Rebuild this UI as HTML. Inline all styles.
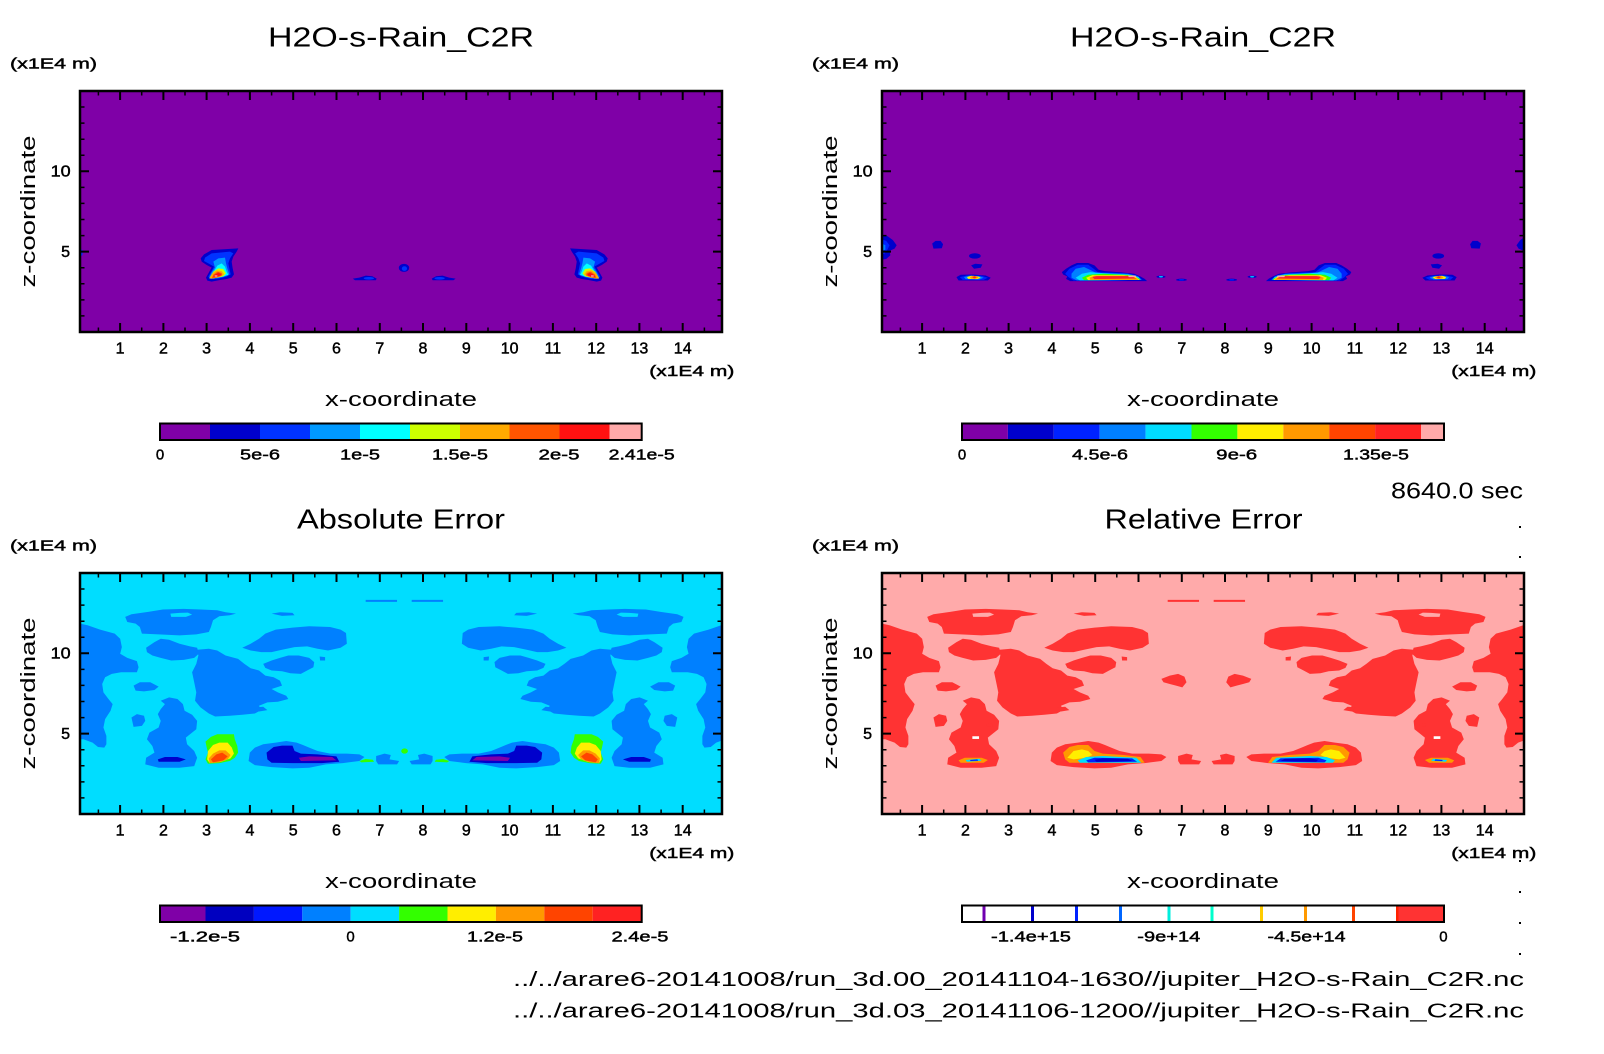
<!DOCTYPE html>
<html><head><meta charset="utf-8"><style>
html,body{margin:0;padding:0;background:#fff;}
svg{display:block;}
text{font-family:"Liberation Sans",sans-serif;fill:#000;}
.sm{stroke:#000;stroke-width:0.45;}
</style></head><body>
<svg width="1604" height="1054" viewBox="0 0 1604 1054" xmlns="http://www.w3.org/2000/svg">
<defs>
<clipPath id="cTL"><rect x="80" y="91" width="642" height="241"/></clipPath>
<clipPath id="cTR"><rect x="882" y="91" width="642" height="241"/></clipPath>
<clipPath id="cBL"><rect x="80" y="573" width="642" height="241"/></clipPath>
<clipPath id="cBR"><rect x="882" y="573" width="642" height="241"/></clipPath>
<g id="ax" fill="none" stroke="#000">
<rect x="80" y="91" width="642" height="241" stroke-width="2.5"/>
<path stroke-width="2" d="M120.1 332v-9M163.4 332v-9M206.6 332v-9M249.9 332v-9M293.2 332v-9M336.5 332v-9M379.8 332v-9M423 332v-9M466.3 332v-9M509.6 332v-9M552.9 332v-9M596.2 332v-9M639.4 332v-9M682.7 332v-9M120.1 91v9M163.4 91v9M206.6 91v9M249.9 91v9M293.2 91v9M336.5 91v9M379.8 91v9M423 91v9M466.3 91v9M509.6 91v9M552.9 91v9M596.2 91v9M639.4 91v9M682.7 91v9M80 251.65h9M80 171.3h9M722 251.65h-9M722 171.3h-9"/>
<path stroke-width="1.5" d="M98.4 332v-4.5M141.7 332v-4.5M185 332v-4.5M228.3 332v-4.5M271.6 332v-4.5M314.8 332v-4.5M358.1 332v-4.5M401.4 332v-4.5M444.7 332v-4.5M488 332v-4.5M531.2 332v-4.5M574.5 332v-4.5M617.8 332v-4.5M661.1 332v-4.5M704.4 332v-4.5M98.4 91v4.5M141.7 91v4.5M185 91v4.5M228.3 91v4.5M271.6 91v4.5M314.8 91v4.5M358.1 91v4.5M401.4 91v4.5M444.7 91v4.5M488 91v4.5M531.2 91v4.5M574.5 91v4.5M617.8 91v4.5M661.1 91v4.5M704.4 91v4.5M80 315.9h4.5M80 299.9h4.5M80 283.8h4.5M80 267.7h4.5M80 235.6h4.5M80 219.5h4.5M80 203.4h4.5M80 187.4h4.5M80 155.2h4.5M80 139.2h4.5M80 123.1h4.5M80 107h4.5M722 315.9h-4.5M722 299.9h-4.5M722 283.8h-4.5M722 267.7h-4.5M722 235.6h-4.5M722 219.5h-4.5M722 203.4h-4.5M722 187.4h-4.5M722 155.2h-4.5M722 139.2h-4.5M722 123.1h-4.5M722 107h-4.5"/>
</g>
<g id="esh">
<path d="M12,160 L30,165 60,178 95,190 108,205 112,230 108,250 125,262 148,272 152,290 148,305 110,305 88,310 72,320 65,340 68,365 80,385 90,400 85,420 72,445 68,470 75,495 75,520 70,530 55,528 42,515 20,505 12,505Z"/>
<path fill-rule="evenodd" d="M120,140 L135,132 175,125 210,118 260,116 300,118 340,120 360,126 385,130 370,135 345,138 330,150 325,170 320,185 290,192 250,195 200,192 160,190 155,170 145,160 125,155Z M228,130 L250,128 270,127 280,133 265,140 230,140Z"/>
<path d="M170,232 L190,215 205,205 225,208 250,220 275,228 292,232 296,250 285,262 260,268 230,270 205,262 185,255 172,245Z"/>
<path d="M292,238 L320,235 340,240 360,255 390,265 405,280 420,293 440,300 455,315 475,320 490,330 495,345 470,355 485,365 505,375 510,385 485,393 460,395 440,405 445,418 430,428 400,432 370,435 335,437 320,428 300,410 287,390 290,365 285,335 280,305 290,280 295,255Z"/>
<path d="M400,232 L420,220 440,205 455,190 480,178 520,172 560,168 610,170 635,178 648,188 650,220 635,232 605,240 580,235 555,228 525,230 495,238 470,245 445,245 420,240Z"/>
<path d="M450,280 L470,270 490,262 510,255 535,255 560,262 572,275 570,290 555,300 540,310 515,308 495,302 470,300 455,292Z"/>
<path d="M585,258 L598,260 598,270 586,270Z"/>
<path d="M140,345 L155,335 180,335 200,348 190,358 165,362 145,360Z"/>
<path d="M135,440 L148,430 165,435 168,450 160,465 140,468Z"/>
<path d="M205,390 L225,380 245,385 258,400 262,420 280,432 292,450 290,475 275,490 265,500 268,520 285,540 292,560 285,585 250,590 200,590 168,580 170,560 190,545 185,525 172,505 178,485 200,470 205,450 198,430 205,415 215,400Z"/>
<path d="M262,458 L278,460 276,468 263,467Z"/>
<path d="M418,545 L430,530 450,520 480,515 505,510 530,515 545,522 560,530 580,540 610,548 650,548 680,550 692,558 680,570 640,576 600,580 560,590 520,592 470,588 430,582 415,570Z"/>
<path d="M720,555 L740,548 755,552 752,565 775,570 770,580 725,580 720,570Z"/>
<path d="M695,89 L770,89 770,95 695,95Z"/>
<path d="M470,130 L490,126 520,128 525,135 495,137Z"/>
<path d="M430,410 L450,408 460,418 440,422Z"/>
</g>
<g id="blov">
<path fill="#0000CC" d="M458,545 L475,528 495,524 520,524 525,540 540,548 580,550 625,556 632,572 590,576 520,576 470,575 460,565Z"/>
<path fill="#7F00A7" d="M535,560 L560,556 615,558 625,568 540,570Z"/>
<path fill="#0000CC" d="M198,565 L215,558 245,558 265,565 250,572 200,572Z"/>
<path fill="#33FF00" d="M680,570 L695,564 712,566 715,572 685,574Z"/>
<path fill="#33FF00" d="M312,512 L325,498 340,490 380,490 382,505 388,525 390,545 382,560 370,570 345,576 318,578 312,565 318,545 315,530Z"/>
<path fill="#FFEE00" d="M318,540 L330,522 345,515 365,515 375,530 380,548 372,562 350,572 322,576 316,565Z"/>
<path fill="#FF9900" d="M320,562 L330,548 345,538 360,538 372,552 365,565 345,574 322,576Z"/>
<path fill="#FF4400" d="M325,565 L338,550 352,545 365,556 355,568 330,574Z"/>
</g>
<g id="brov">
<path fill="#FF3333" d="M680,325 L700,315 720,310 735,318 740,335 730,350 715,345 700,340 685,335Z"/>
<rect fill="#fff" x="228" y="496" width="16" height="8"/>
<path fill="#FF9900" d="M445,545 L460,528 480,522 505,522 520,540 540,548 590,552 630,558 640,575 460,575 450,565Z"/>
<path fill="#FFEE00" d="M455,560 L470,540 490,535 505,540 515,552 500,560 470,565Z"/>
<path fill="#00DDFF" d="M480,568 L500,558 540,555 620,560 632,575 485,575Z"/>
<path fill="#0022FF" d="M500,568 L520,560 610,562 622,572 505,574Z"/>
<path fill="#0000CC" d="M520,566 L540,562 600,563 610,570 525,572Z"/>
<path fill="#FF9900" d="M195,568 L210,560 250,560 265,567 255,575 200,575Z"/>
<path fill="#00DDFF" d="M212,567 L245,563 250,569 215,572Z"/>
<path fill="#0022FF" d="M222,567 L240,565 242,569 224,570Z"/>
</g>
<g id="tlb" transform="translate(180,235) scale(0.33333)">
<path fill="#0000CC" d="M95,45 L175,40 170,50 160,65 155,80 158,100 162,118 155,128 140,132 120,135 95,140 82,137 78,128 88,110 95,98 80,90 65,80 62,70 72,58 90,48Z"/>
<path fill="#0033FF" d="M75,68 L95,55 150,50 160,55 150,70 145,85 148,100 152,118 140,125 110,132 90,132 85,125 95,108 102,95 85,85 72,78Z"/>
<path fill="#0099FF" d="M100,80 L115,70 135,68 138,85 142,100 148,118 130,126 100,130 88,128 95,112 105,98Z"/>
<path fill="#00FFFF" d="M112,92 L125,85 135,95 140,110 145,120 115,128 92,128 100,112Z"/>
<path fill="#CCFF00" d="M100,110 L115,100 130,102 138,115 130,124 100,130 88,130Z"/>
<path fill="#FFAA00" d="M96,116 L110,106 125,108 133,118 120,126 95,131 88,130Z"/>
<path fill="#FF5500" d="M100,119 L113,110 125,114 127,121 110,127 96,129Z"/>
<path fill="#FF1111" d="M103,120 L115,113 123,117 121,122 108,126 100,127Z"/>
<rect fill="#FFAAAA" x="104" y="121" width="8" height="4"/>
</g>
<g id="tls">
<path fill="#0000CC" d="M675,175 L690,172 705,166 720,168 730,175 728,180 680,180Z"/>
<ellipse fill="#0033FF" cx="712" cy="174" rx="12" ry="4"/>
<path fill="#0033FF" d="M45,85 L52,90 52,105 45,110Z"/>
</g>
<g id="trs">
<path fill="#0000CC" d="M12,45 L25,48 38,60 47,75 42,85 30,92 32,105 22,116 12,118Z"/>
<path fill="#0022FF" d="M12,58 L22,62 30,75 25,88 18,100 12,102Z"/>
<path fill="#0080FF" d="M12,70 L20,75 20,88 12,92Z"/>
<path fill="#0000CC" d="M132,70 L140,62 152,62 158,72 155,84 135,85Z"/>
<ellipse fill="#0000CC" cx="234" cy="107" rx="14" ry="8"/>
<path fill="#0000CC" d="M225,135 L235,130 252,132 248,142 232,145Z"/>
<path fill="#0000CC" d="M190,170 L200,163 230,162 260,165 272,172 265,180 195,180Z"/>
<path fill="#0022FF" d="M198,170 L215,165 250,166 265,172 255,178 205,178Z"/>
<path fill="#0080FF" d="M208,170 L220,166 245,167 255,172 245,177 212,176Z"/>
<path fill="#FFEE00" d="M215,170 L225,166 242,168 248,172 240,176 218,175Z"/>
<path fill="#FF9900" d="M222,170 L230,166 240,168 242,172 235,175 225,174Z"/>
<path fill="#FF2222" d="M228,170 L234,167 238,171 232,174Z"/>
<path fill="#0000CC" d="M445,162 L442,155 452,145 465,135 478,128 505,128 520,135 530,148 545,152 585,156 615,160 630,168 640,175 646,182 462,182 452,175 455,168Z"/>
<path fill="#0022FF" d="M450,160 L460,145 480,133 505,133 518,145 528,155 590,158 620,164 635,178 470,180 458,170Z"/>
<path fill="#0080FF" d="M465,160 L475,145 495,140 512,150 525,158 600,160 625,168 632,178 478,180 465,172Z"/>
<path fill="#00DDFF" d="M475,172 L490,160 510,155 540,158 600,162 625,170 630,178 485,180Z"/>
<path fill="#33FF00" d="M490,172 L505,163 540,160 610,164 628,175 630,178 495,179Z"/>
<path fill="#FFEE00" d="M500,172 L515,164 590,164 620,170 628,178 505,179Z"/>
<path fill="#FF9900" d="M508,172 L520,166 600,166 622,174 625,178 510,178Z"/>
<path fill="#FF2222" d="M515,170 L525,167 610,167 620,174 520,176Z"/>
<path fill="#FFAAAA" d="M600,165 L618,165 620,170 602,170Z"/>
<ellipse fill="#0000CC" cx="679" cy="169" rx="11" ry="3.5"/>
<ellipse fill="#00DDFF" cx="679" cy="169" rx="5" ry="2"/>
<ellipse fill="#0000CC" cx="728" cy="178" rx="13" ry="3.5"/>
<ellipse fill="#0022FF" cx="728" cy="178" rx="6" ry="2"/>
</g>
</defs>

<!-- TL plot -->
<g clip-path="url(#cTL)">
<rect x="80" y="91" width="642" height="241" fill="#7F00A7"/>
<use href="#tlb"/>
<g transform="translate(808.4,0) scale(-1,1)"><use href="#tlb"/></g>
<g transform="translate(60,220) scale(0.4338,0.335)">
<use href="#tls"/>
<g transform="translate(1587,0) scale(-1,1)"><use href="#tls"/></g>
<ellipse fill="#0000CC" cx="793" cy="143" rx="12" ry="12"/>
<ellipse fill="#0033FF" cx="794" cy="145" rx="6" ry="7"/>
</g>
</g>
<!-- TR plot -->
<g clip-path="url(#cTR)">
<rect x="882" y="91" width="642" height="241" fill="#7F00A7"/>
<g transform="translate(877,220) scale(0.41824,0.3361)">
<use href="#trs"/>
<g transform="translate(1576,0) scale(-1,1)"><use href="#trs"/></g>
</g>
</g>
<!-- BL plot -->
<g clip-path="url(#cBL)">
<rect x="80" y="573" width="642" height="241" fill="#00DDFF"/>
<g transform="translate(75,570) scale(0.41824,0.33519)">
<use href="#esh" fill="#0080FF"/>
<g transform="translate(1575,0) scale(-1,1)"><use href="#esh" fill="#0080FF"/><use href="#blov"/></g>
<use href="#blov"/>
<ellipse fill="#33FF00" cx="788" cy="540" rx="8" ry="8"/>
</g>
</g>
<!-- BR plot -->
<g clip-path="url(#cBR)">
<rect x="882" y="573" width="642" height="241" fill="#FFAAAA"/>
<g transform="translate(877,570) scale(0.41824,0.33519)">
<use href="#esh" fill="#FF3333"/>
<g transform="translate(1575,0) scale(-1,1)"><use href="#esh" fill="#FF3333"/><use href="#brov"/></g>
<use href="#brov"/>
</g>
</g>

<use href="#ax"/>
<use href="#ax" x="802"/>
<use href="#ax" y="482"/>
<use href="#ax" x="802" y="482"/>

<!-- colorbars -->
<g>
<rect x="160" y="423.5" width="50" height="16.5" fill="#7F00A7"/>
<rect x="210" y="423.5" width="50" height="16.5" fill="#0000CC"/>
<rect x="260" y="423.5" width="50" height="16.5" fill="#0033FF"/>
<rect x="310" y="423.5" width="50" height="16.5" fill="#0099FF"/>
<rect x="360" y="423.5" width="50" height="16.5" fill="#00FFFF"/>
<rect x="410" y="423.5" width="50" height="16.5" fill="#CCFF00"/>
<rect x="460" y="423.5" width="49.5" height="16.5" fill="#FFAA00"/>
<rect x="509.5" y="423.5" width="50" height="16.5" fill="#FF5500"/>
<rect x="559.5" y="423.5" width="50" height="16.5" fill="#FF1111"/>
<rect x="609.5" y="423.5" width="32.2" height="16.5" fill="#FFAAAA"/>
<rect x="160" y="423.5" width="481.7" height="16.5" fill="none" stroke="#000" stroke-width="2"/>

<rect x="962" y="423.5" width="45.9" height="16.5" fill="#7F00A7"/>
<rect x="1007.9" y="423.5" width="45.9" height="16.5" fill="#0000CC"/>
<rect x="1053.8" y="423.5" width="45.9" height="16.5" fill="#0022FF"/>
<rect x="1099.7" y="423.5" width="45.9" height="16.5" fill="#0080FF"/>
<rect x="1145.6" y="423.5" width="45.9" height="16.5" fill="#00DDFF"/>
<rect x="1191.5" y="423.5" width="45.9" height="16.5" fill="#33FF00"/>
<rect x="1237.4" y="423.5" width="45.9" height="16.5" fill="#FFEE00"/>
<rect x="1283.3" y="423.5" width="45.9" height="16.5" fill="#FF9900"/>
<rect x="1329.2" y="423.5" width="45.9" height="16.5" fill="#FF4400"/>
<rect x="1375.1" y="423.5" width="45.9" height="16.5" fill="#FF2222"/>
<rect x="1421" y="423.5" width="23" height="16.5" fill="#FFAAAA"/>
<rect x="962" y="423.5" width="482" height="16.5" fill="none" stroke="#000" stroke-width="2"/>

<rect x="160" y="905.5" width="45.5" height="16.5" fill="#7F00A7"/>
<rect x="205.5" y="905.5" width="48.4" height="16.5" fill="#0000C0"/>
<rect x="253.9" y="905.5" width="48.4" height="16.5" fill="#0018FF"/>
<rect x="302.3" y="905.5" width="48.4" height="16.5" fill="#0080FF"/>
<rect x="350.7" y="905.5" width="48.4" height="16.5" fill="#00DDFF"/>
<rect x="399.1" y="905.5" width="48.4" height="16.5" fill="#33FF00"/>
<rect x="447.5" y="905.5" width="48.4" height="16.5" fill="#FFEE00"/>
<rect x="495.9" y="905.5" width="48.4" height="16.5" fill="#FF9900"/>
<rect x="544.3" y="905.5" width="48.4" height="16.5" fill="#FF4400"/>
<rect x="592.7" y="905.5" width="49" height="16.5" fill="#FF2222"/>
<rect x="160" y="905.5" width="481.7" height="16.5" fill="none" stroke="#000" stroke-width="2"/>

<rect x="962" y="905.5" width="482" height="16.5" fill="#fff"/>
<rect x="982.5" y="905.5" width="3" height="16.5" fill="#7000B0"/>
<rect x="1031" y="905.5" width="3" height="16.5" fill="#0000CC"/>
<rect x="1075" y="905.5" width="3" height="16.5" fill="#0022FF"/>
<rect x="1119" y="905.5" width="3" height="16.5" fill="#0066FF"/>
<rect x="1167.5" y="905.5" width="3" height="16.5" fill="#00EEDD"/>
<rect x="1210.5" y="905.5" width="3" height="16.5" fill="#00FFCC"/>
<rect x="1260" y="905.5" width="3" height="16.5" fill="#FFCC00"/>
<rect x="1304" y="905.5" width="3" height="16.5" fill="#FF9900"/>
<rect x="1352" y="905.5" width="3" height="16.5" fill="#FF4400"/>
<rect x="1396" y="905.5" width="48" height="16.5" fill="#FF3333"/>
<rect x="1396" y="905.5" width="2.5" height="16.5" fill="#FF2200"/>
<rect x="962" y="905.5" width="482" height="16.5" fill="none" stroke="#000" stroke-width="2"/>
</g>

<!-- titles -->
<text x="401" y="46.7" font-size="28" text-anchor="middle" textLength="266" lengthAdjust="spacingAndGlyphs">H2O-s-Rain_C2R</text>
<text x="1203" y="46.7" font-size="28" text-anchor="middle" textLength="266" lengthAdjust="spacingAndGlyphs">H2O-s-Rain_C2R</text>
<text x="401" y="528.7" font-size="28" text-anchor="middle" textLength="208" lengthAdjust="spacingAndGlyphs">Absolute Error</text>
<text x="1203.5" y="528.5" font-size="28" text-anchor="middle" textLength="198" lengthAdjust="spacingAndGlyphs">Relative Error</text>
<text x="1523" y="498.3" font-size="23" text-anchor="end" textLength="132" lengthAdjust="spacingAndGlyphs">8640.0 sec</text>

<!-- unit labels -->
<g font-size="15" class="sm">
<text x="10" y="68.5" textLength="87" lengthAdjust="spacingAndGlyphs">(x1E4 m)</text>
<text x="812" y="68.5" textLength="87" lengthAdjust="spacingAndGlyphs">(x1E4 m)</text>
<text x="10" y="550.5" textLength="87" lengthAdjust="spacingAndGlyphs">(x1E4 m)</text>
<text x="812" y="550.5" textLength="87" lengthAdjust="spacingAndGlyphs">(x1E4 m)</text>
<text x="649.3" y="376" textLength="85" lengthAdjust="spacingAndGlyphs">(x1E4 m)</text>
<text x="1451.3" y="376" textLength="85" lengthAdjust="spacingAndGlyphs">(x1E4 m)</text>
<text x="649.3" y="858" textLength="85" lengthAdjust="spacingAndGlyphs">(x1E4 m)</text>
<text x="1451.3" y="858" textLength="85" lengthAdjust="spacingAndGlyphs">(x1E4 m)</text>
</g>

<!-- y tick labels -->
<g font-size="16" text-anchor="end" class="sm">
<text x="70.7" y="176.7" textLength="20" lengthAdjust="spacingAndGlyphs">10</text>
<text x="70" y="257">5</text>
<text x="872.7" y="176.7" textLength="20" lengthAdjust="spacingAndGlyphs">10</text>
<text x="872" y="257">5</text>
<text x="70.7" y="658.7" textLength="20" lengthAdjust="spacingAndGlyphs">10</text>
<text x="70" y="739">5</text>
<text x="872.7" y="658.7" textLength="20" lengthAdjust="spacingAndGlyphs">10</text>
<text x="872" y="739">5</text>
</g>

<!-- axis titles -->
<g font-size="20" text-anchor="middle">
<text transform="translate(35,211.5) rotate(-90)" textLength="152" lengthAdjust="spacingAndGlyphs">z-coordinate</text>
<text transform="translate(837,211.5) rotate(-90)" textLength="152" lengthAdjust="spacingAndGlyphs">z-coordinate</text>
<text transform="translate(35,693.5) rotate(-90)" textLength="152" lengthAdjust="spacingAndGlyphs">z-coordinate</text>
<text transform="translate(837,693.5) rotate(-90)" textLength="152" lengthAdjust="spacingAndGlyphs">z-coordinate</text>
<text x="401" y="406" textLength="152" lengthAdjust="spacingAndGlyphs">x-coordinate</text>
<text x="1203" y="406" textLength="152" lengthAdjust="spacingAndGlyphs">x-coordinate</text>
<text x="401" y="888" textLength="152" lengthAdjust="spacingAndGlyphs">x-coordinate</text>
<text x="1203" y="888" textLength="152" lengthAdjust="spacingAndGlyphs">x-coordinate</text>
</g>

<!-- x tick labels -->
<g font-size="16" text-anchor="middle" class="sm">
<text x="120.1" y="353.3">1</text><text x="163.4" y="353.3">2</text><text x="206.6" y="353.3">3</text><text x="249.9" y="353.3">4</text><text x="293.2" y="353.3">5</text><text x="336.5" y="353.3">6</text><text x="379.8" y="353.3">7</text><text x="423" y="353.3">8</text><text x="466.3" y="353.3">9</text><text x="509.6" y="353.3">10</text><text x="552.9" y="353.3">11</text><text x="596.2" y="353.3">12</text><text x="639.4" y="353.3">13</text><text x="682.7" y="353.3">14</text>
<text x="922.1" y="353.3">1</text><text x="965.4" y="353.3">2</text><text x="1008.6" y="353.3">3</text><text x="1051.9" y="353.3">4</text><text x="1095.2" y="353.3">5</text><text x="1138.5" y="353.3">6</text><text x="1181.8" y="353.3">7</text><text x="1225" y="353.3">8</text><text x="1268.3" y="353.3">9</text><text x="1311.6" y="353.3">10</text><text x="1354.9" y="353.3">11</text><text x="1398.2" y="353.3">12</text><text x="1441.4" y="353.3">13</text><text x="1484.7" y="353.3">14</text>
<text x="120.1" y="835.3">1</text><text x="163.4" y="835.3">2</text><text x="206.6" y="835.3">3</text><text x="249.9" y="835.3">4</text><text x="293.2" y="835.3">5</text><text x="336.5" y="835.3">6</text><text x="379.8" y="835.3">7</text><text x="423" y="835.3">8</text><text x="466.3" y="835.3">9</text><text x="509.6" y="835.3">10</text><text x="552.9" y="835.3">11</text><text x="596.2" y="835.3">12</text><text x="639.4" y="835.3">13</text><text x="682.7" y="835.3">14</text>
<text x="922.1" y="835.3">1</text><text x="965.4" y="835.3">2</text><text x="1008.6" y="835.3">3</text><text x="1051.9" y="835.3">4</text><text x="1095.2" y="835.3">5</text><text x="1138.5" y="835.3">6</text><text x="1181.8" y="835.3">7</text><text x="1225" y="835.3">8</text><text x="1268.3" y="835.3">9</text><text x="1311.6" y="835.3">10</text><text x="1354.9" y="835.3">11</text><text x="1398.2" y="835.3">12</text><text x="1441.4" y="835.3">13</text><text x="1484.7" y="835.3">14</text>
</g>

<!-- colorbar labels -->
<g font-size="15" text-anchor="middle" class="sm">
<text x="160" y="459.3">0</text>
<text x="260" y="459.3" textLength="40" lengthAdjust="spacingAndGlyphs">5e-6</text>
<text x="360" y="459.3" textLength="40" lengthAdjust="spacingAndGlyphs">1e-5</text>
<text x="460" y="459.3" textLength="56" lengthAdjust="spacingAndGlyphs">1.5e-5</text>
<text x="559" y="459.3" textLength="41" lengthAdjust="spacingAndGlyphs">2e-5</text>
<text x="641.7" y="459.3" textLength="66" lengthAdjust="spacingAndGlyphs">2.41e-5</text>
<text x="962" y="459.3">0</text>
<text x="1100" y="459.3" textLength="56" lengthAdjust="spacingAndGlyphs">4.5e-6</text>
<text x="1236.7" y="459.3" textLength="41" lengthAdjust="spacingAndGlyphs">9e-6</text>
<text x="1376" y="459.3" textLength="66" lengthAdjust="spacingAndGlyphs">1.35e-5</text>
<text x="205" y="941.3" textLength="70" lengthAdjust="spacingAndGlyphs">-1.2e-5</text>
<text x="350.5" y="941.3">0</text>
<text x="495" y="941.3" textLength="56" lengthAdjust="spacingAndGlyphs">1.2e-5</text>
<text x="640" y="941.3" textLength="57" lengthAdjust="spacingAndGlyphs">2.4e-5</text>
<text x="1031" y="941.3" textLength="80" lengthAdjust="spacingAndGlyphs">-1.4e+15</text>
<text x="1168.8" y="941.3" textLength="63" lengthAdjust="spacingAndGlyphs">-9e+14</text>
<text x="1306.5" y="941.3" textLength="78" lengthAdjust="spacingAndGlyphs">-4.5e+14</text>
<text x="1443.4" y="941.3">0</text>
</g>

<!-- file paths -->
<text x="1524" y="986.2" font-size="20" text-anchor="end" textLength="1011" lengthAdjust="spacingAndGlyphs">../../arare6-20141008/run_3d.00_20141104-1630//jupiter_H2O-s-Rain_C2R.nc</text>
<text x="1524" y="1017.3" font-size="20" text-anchor="end" textLength="1011" lengthAdjust="spacingAndGlyphs">../../arare6-20141008/run_3d.03_20141106-1200//jupiter_H2O-s-Rain_C2R.nc</text>

<!-- dots -->
<g fill="#000">
<rect x="1519" y="526" width="2" height="2"/>
<rect x="1519" y="556" width="2" height="2"/>
<rect x="1519" y="860" width="2" height="2"/>
<rect x="1519" y="891" width="2" height="2"/>
<rect x="1519" y="922" width="2" height="2"/>
<rect x="1519" y="953" width="2" height="2"/>
</g>
</svg>
</body></html>
